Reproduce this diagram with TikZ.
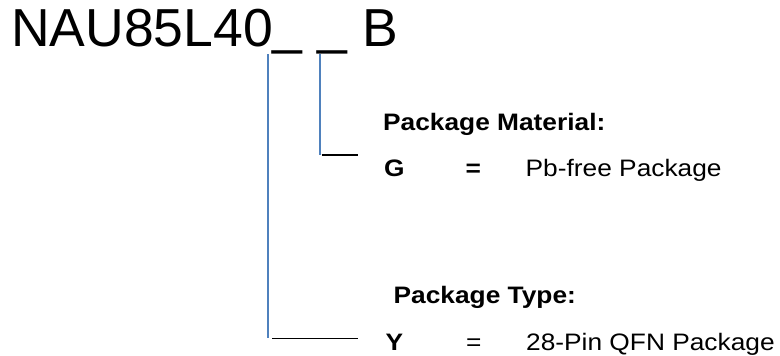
\documentclass[tikz,border=0pt]{standalone}
\usepackage{fontspec}
\setmainfont{Liberation Sans}
\definecolor{leadblue}{RGB}{79,129,189}
\begin{document}
\begin{tikzpicture}[x=1pt,y=-1pt,
  txt/.style={inner sep=0pt,anchor=base west,font=\fontsize{23.8}{28}\selectfont},
  btxt/.style={txt,font=\fontsize{23.8}{28}\selectfont\bfseries},
  blead/.style={draw=leadblue,line width=1.5pt},
  klead/.style={draw=black,line width=1.5pt}]
\useasboundingbox (0,0) rectangle (780,356);
\node[inner sep=0pt,anchor=base west,font=\fontsize{53.5}{60}\selectfont] (title) at (11,46.5) {NAU85L40\raisebox{3.5pt}{\_} \raisebox{3.5pt}{\_} B};
% Package Material
\node[btxt] (pmhead) at (383,130) {\scalebox{1.105}[1]{Package Material:}};
\node[btxt] (pmkey) at (384,176.7) {\scalebox{1.105}[1]{G}};
\node[btxt] (pmeq) at (465.5,176.7) {\scalebox{1.105}[1]{=}};
\node[txt] (pmval) at (525.5,176.7) {\scalebox{1.105}[1]{Pb-free Package}};
% Package Type
\node[btxt] (pthead) at (393.5,303.3) {\scalebox{1.105}[1]{Package Type:}};
\node[btxt] (ptkey) at (385.5,350) {\scalebox{1.105}[1]{Y}};
\node[txt] (pteq) at (466,350) {\scalebox{1.105}[1]{=}};
\node[txt] (ptval) at (526,350) {\scalebox{1.105}[1]{28-Pin QFN Package}};
% leaders
\coordinate (a1) at (268,54);
\coordinate (a2) at (268,338.3);
\coordinate (a3) at (272,338.3);
\coordinate (a4) at (358,338.3);
\coordinate (b1) at (320,54);
\coordinate (b2) at (320,155);
\coordinate (b3) at (321.7,155);
\coordinate (b4) at (357.7,155);
\draw[blead] (a1) -- (a2);
\draw[klead] (a3) -- (a4);
\draw[blead] (b1) -- (b2);
\draw[klead] (b3) -- (b4);
\end{tikzpicture}
\end{document}
